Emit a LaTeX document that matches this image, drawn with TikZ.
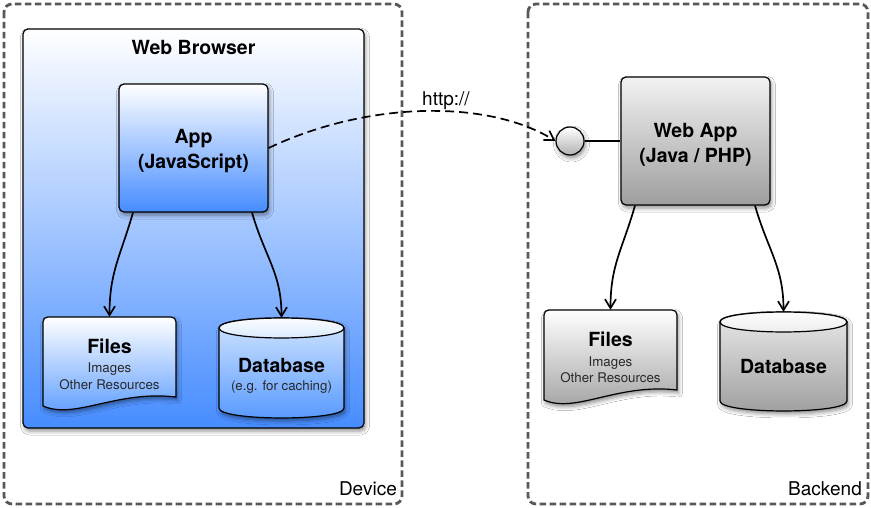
\documentclass[tikz,border=0pt]{standalone}
\usepackage{fontspec}
\setmainfont{TeX Gyre Heros}
\usetikzlibrary{arrows.meta,shadows.blur,calc}
\definecolor{zonegray}{RGB}{88,88,88}
\definecolor{blueD}{RGB}{70,140,255}
\definecolor{blueM}{RGB}{170,205,255}
\definecolor{blueF}{RGB}{85,152,255}
\definecolor{blueT}{RGB}{215,232,255}
\definecolor{grayD}{RGB}{158,158,158}
\definecolor{grayT}{RGB}{235,235,235}
\definecolor{txtgray}{RGB}{40,40,40}
\newcommand{\dbcyl}[6]{%
  \path[shapeline, top color=#5, bottom color=#6, shadowed]
    (#1,#3) -- (#1,#4) .. controls (#1,{#4+13.3}) and (#2,{#4+13.3}) .. (#2,#4)
    -- (#2,#3) .. controls (#2,{#3-13.3}) and (#1,{#3-13.3}) .. (#1,#3) -- cycle;
  \path[shapeline, top color=white, bottom color=#5]
    (#1,#3) .. controls (#1,{#3+13.3}) and (#2,{#3+13.3}) .. (#2,#3)
    .. controls (#2,{#3-13.3}) and (#1,{#3-13.3}) .. (#1,#3) -- cycle;
}
\newcommand{\docshape}[7]{% x1 x2 ytop yleftbottom yrightbottom topcol botcol
  \path[shapeline, top color=#6, bottom color=#7, shadowed]
    (#1,#4) -- (#1,{#3+5}) .. controls (#1,{#3+2}) and ({#1+2},#3) .. ({#1+5},#3)
    -- ({#2-5},#3) .. controls ({#2-2},#3) and (#2,{#3+2}) .. (#2,{#3+5})
    -- (#2,#5) .. controls ({#2-60},{#5-7}) and ({#1+32},{#4+14}) .. (#1,#4) -- cycle;
}
\tikzset{
  zone/.style={draw=zonegray, line width=2.8pt, dash pattern=on 6.5pt off 3.5pt, rounded corners=8pt},
  shapeline/.style={draw=black, line width=1.2pt},
  shadowed/.style={blur shadow={shadow xshift=1.5pt, shadow yshift=-3pt, shadow blur radius=4pt, shadow opacity=45}},
  panel/.style={shapeline, rounded corners=5pt, inner sep=0pt, shadowed},
  conn/.style={draw=black, line width=1.7pt, -{Straight Barb[length=9pt,width=11pt]}},
  dconn/.style={conn, dash pattern=on 9pt off 5pt},
  holder/.style={inner sep=0pt, draw=none},
  bigtxt/.style={font=\fontsize{19.5}{22}\selectfont\bfseries, anchor=base, inner sep=0pt},
  smalltxt/.style={font=\fontsize{13.3}{15}\selectfont, text=txtgray, anchor=base, inner sep=0pt},
  zonetxt/.style={font=\fontsize{19}{22}\selectfont, anchor=base east, inner sep=0pt},
  linktxt/.style={font=\fontsize{19}{22}\selectfont, anchor=base, inner sep=0pt},
}
\begin{document}
\begin{tikzpicture}[x=1pt,y=-1pt]
\useasboundingbox (0,0) rectangle (871,508);
\fill[white] (0,0) rectangle (871,508);

% zones
\draw[zone] (4,4) rectangle (402,504);
\draw[zone] (528,4) rectangle (868,504);
\node[zonetxt] (device) at (397,495) {Device};
\node[zonetxt] (backend) at (862,495) {Backend};

% web browser
\node[panel, top color=white, bottom color=blueD, minimum width=341pt, minimum height=399pt] (browser) at (193.5,228.5) {};
\node[bigtxt] (browserT) at (193.5,55) {Web Browser};

% app
\node[panel, top color=white, middle color=blueM, bottom color=blueD, minimum width=149pt, minimum height=128pt] (app) at (193.5,148) {};
\node[bigtxt] (appT1) at (193.5,144) {App};
\node[bigtxt] (appT2) at (193.5,169) {(JavaScript)};

% files left
\docshape{43}{176}{317}{406}{397}{white}{blueF}
\node[holder, minimum width=133pt, minimum height=90pt] (filesL) at (109.5,362) {};
\node[bigtxt] (filesLT) at (109.5,353.5) {Files};
\node[smalltxt] (filesLa) at (109.5,372.5) {Images};
\node[smalltxt] (filesLb) at (109.5,389.5) {Other Resources};

% db left
\dbcyl{219}{344}{328}{408}{blueT}{blueF}
\node[holder, minimum width=125pt, minimum height=100pt] (dbL) at (281.5,368) {};
\node[bigtxt] (dbLT) at (281.5,372) {Database};
\node[smalltxt] (dbLa) at (281.5,390) {(e.g. for caching)};

% web app
\node[panel, top color=white!95!black, bottom color=grayD, minimum width=149pt, minimum height=128pt] (webapp) at (695.5,141) {};
\node[bigtxt] (webappT1) at (695.5,137.5) {Web App};
\node[bigtxt] (webappT2) at (695.5,162.5) {(Java / PHP)};
\node[circle, shapeline, top color=white, bottom color=grayD!80!white, minimum size=28pt, inner sep=0pt, shadowed] (port) at (570,141) {};
\draw[shapeline, line width=1.6pt] (port) -- (webapp);

% files right
\docshape{544}{677}{310}{400}{390}{white}{grayD}
\node[holder, minimum width=133pt, minimum height=90pt] (filesR) at (610.5,355) {};
\node[bigtxt] (filesRT) at (610.5,346.7) {Files};
\node[smalltxt] (filesRa) at (610.5,366) {Images};
\node[smalltxt] (filesRb) at (610.5,382.7) {Other Resources};

% db right
\dbcyl{720}{847}{322}{401}{grayT}{grayD}
\node[holder, minimum width=127pt, minimum height=99pt] (dbR) at (783.5,361.5) {};
\node[bigtxt] (dbRT) at (783.5,373.3) {Database};

% connectors
\draw[conn] ($(app.south)+(-60.5,0)$) .. controls +(-13,45) and +(0,-45) .. (filesL.north);
\draw[conn] ($(app.south)+(58.5,0)$) .. controls +(13,45) and +(0,-45) .. (dbL.north);
\draw[conn] ($(webapp.south)+(-60.5,0)$) .. controls +(-13,45) and +(0,-45) .. (filesR.north);
\draw[conn] ($(webapp.south)+(59.5,0)$) .. controls +(13,45) and +(0,-45) .. (dbR.north);
\draw[dconn] (app.east) .. controls (370,100) and (490,100) .. (port.west);
\node[linktxt] (http) at (446,106) {http://};
\end{tikzpicture}
\end{document}
